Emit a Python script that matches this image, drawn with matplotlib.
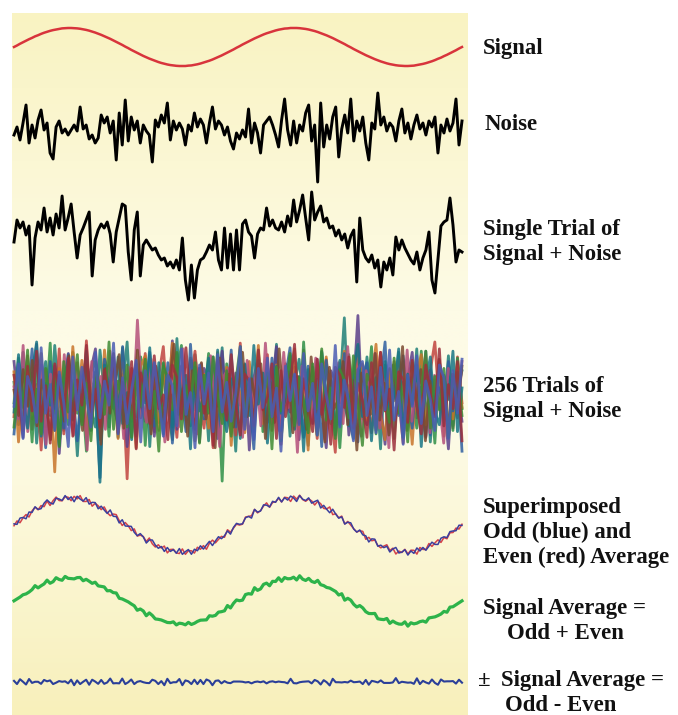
import numpy as np
import matplotlib
matplotlib.use("Agg")
import matplotlib.pyplot as plt
from matplotlib.colors import LinearSegmentedColormap

# ---------------- data ----------------
signal = [0.00, 0.08, 0.17, 0.25, 0.33, 0.41, 0.48, 0.56, 0.62, 0.69,
          0.75, 0.80, 0.85, 0.89, 0.92, 0.95, 0.98, 0.99, 1.00, 1.00,
          0.99, 0.98, 0.96, 0.93, 0.90, 0.86, 0.81, 0.76, 0.70, 0.64,
          0.57, 0.50, 0.43, 0.35, 0.27, 0.19, 0.11, 0.02, -0.06, -0.15,
          -0.23, -0.31, -0.39, -0.47, -0.54, -0.61, -0.67, -0.73, -0.79, -0.84,
          -0.88, -0.92, -0.95, -0.97, -0.99, -1.00, -1.00, -1.00, -0.98, -0.97,
          -0.94, -0.91, -0.87, -0.82, -0.77, -0.72, -0.66, -0.59, -0.52, -0.45,
          -0.37, -0.29, -0.21, -0.13, -0.04,
          0.04, 0.13, 0.21, 0.29, 0.37, 0.45, 0.52, 0.59, 0.66, 0.72,
          0.77, 0.82, 0.87, 0.91, 0.94, 0.97, 0.98, 1.00, 1.00, 1.00,
          0.99, 0.97, 0.95, 0.92, 0.88, 0.84, 0.79, 0.73, 0.67, 0.61,
          0.54, 0.47, 0.39, 0.31, 0.23, 0.15, 0.06, -0.02, -0.11, -0.19,
          -0.27, -0.35, -0.43, -0.50, -0.57, -0.64, -0.70, -0.76, -0.81, -0.86,
          -0.90, -0.93, -0.96, -0.98, -0.99, -1.00, -1.00, -0.99, -0.98, -0.95,
          -0.92, -0.89, -0.85, -0.80, -0.75, -0.69, -0.62, -0.56, -0.48, -0.41,
          -0.33, -0.25, -0.17, -0.08, 0.00]

noise = [0, 8, -5, 12, 30, -8, 10, -3, 15, 25, 5, 12, -18, -24, 8, 14, 2, 6, 0, 5,
         10, 4, 28, 6, 10, -4, 0, -8, -3, 20, 12, 18, 2, 14, -25, 22, -10, 35, -6, 18,
         5, 14, -8, 10, 4, 0, -27, 15, 8, 20, 12, 32, -5, 14, 5, 12, 6, -10, 10, 4,
         22, 8, 16, 10, -8, 12, 28, 6, 14, 10, 0, 8, -6, -14, 2, -4, 5, -2, 26, -8,
         12, 2, -18, 10, 14, 18, 10, 0, -12, 15, 36, 5, -10, 14, -8, 10, 4, 22, 30, -6,
         10, -47, 32, -12, 10, -4, 18, 28, -22, 6, 20, 2, 36, -6, 14, 4, 18, -8, -25, 12,
         6, 42, 10, 18, 4, 12, 8, -6, 14, 26, 2, 12, -4, 10, 20, 6, 12, 0, 14, 8,
         18, -18, 10, 2, 16, 4, 12, 36, -10, 14]

single_trial = [-2, 20, 12, 18, 5, 14, -45, 2, 18, 10, 32, 8, 22, 5, 26, 12, 44, 10, 22, 36,
                8, -18, 5, 12, 20, 28, -36, 0, 10, 16, 12, 18, 6, -22, 8, 22, 36, 34, -12, -40,
                10, 28, -36, -5, 0, -5, -10, -8, -15, -20, -18, -26, -22, -28, -20, -30, 2, -40, -60, -25,
                -58, -30, -20, -18, -12, -5, -10, 8, -20, -30, 12, -28, 6, -30, 10, -30, 16, 20, 8, 4,
                -18, 6, 12, 10, 32, 14, 20, 12, 10, 18, 8, 24, 14, 40, 18, 30, 45, 22, 0, 48,
                20, 28, 34, 18, 22, 12, 14, 4, 10, 0, 6, -8, 4, 10, -42, 22, -10, -18, -22, -15,
                -28, -20, -47, -22, -30, -18, -35, 3, -10, 0, -8, -14, -20, -24, -12, -30, -18, -10, 8, -40,
                -53, -20, 14, 18, 20, 42, 15, -22, -10, -12]

trials = [
    [12, -25, 38, -8, 20, -41, 5, 30, -17, 44, -3, -30, 22, 9, -52, 15, 33, -12, -27, 40, 1, -19, 26, -36, 8, 47, -22, 14, -5, 31, -44, 19, -11, 28, 3, -33, 50, -15, 7, -26, 36, -2, 18, -39, 24, -9, 42, -21, 11, -48, 29, -6, 16, -31, 37, -13, 4, -24, 45, -18, 21, -35, 10, 32, -7, -43, 25, -16, 39, -1, 14, -28, 6, 68, -20, -37, 23, -10, 34, -4, 17, -46, 27, -14, 2, 38, -29, 13, -8, 41, -23, 30, -40, 9, 19, -12, 35, -26, 5, 22],
    [-18, 27, -4, 35, -29, 10, -47, 22, 3, -15, 41, -33, 16, -7, 29, -22, 48, -11, 6, -38, 20, -2, 33, -26, 13, -72, 24, 8, -19, 37, -9, -31, 18, 43, -14, 1, -36, 26, -21, 11, 39, -6, -28, 15, -45, 31, 4, -17, 23, -34, 46, -10, 7, -25, 19, -3, 36, -30, 12, -42, 28, -8, 21, -16, 40, -24, 2, -37, 17, 32, -13, -49, 25, -5, 9, -27, 44, -20, 14, -32, 6, 38, -11, -23, 30, -1, -41, 18, 27, -15, 3, -35, 22, 47, -9, -19, 12, -28, 34, -6],
    [30, -9, -36, 17, 2, 45, -24, 11, -13, 26, -50, 8, 37, -20, 15, -4, -31, 23, 41, -16, 5, -27, 33, -10, 19, -44, 12, 28, -7, -22, 36, -35, 3, 21, -12, 48, -29, 9, -18, 31, -1, -40, 24, 14, -26, 6, 39, -15, -33, 20, -8, 27, -47, 16, 34, -3, -21, 10, 43, -30, 1, -14, 25, -38, 18, 7, -24, 32, -11, -45, 22, 13, -6, 29, -34, 4, 70, -17, -25, 11, 35, -9, -42, 19, -2, 26, -28, 15, 38, -19, 8, -36, 23, -12, 31, -5, -46, 17, 9, -22],
    [-6, 33, -21, 14, -40, 27, 8, -12, 46, -30, 19, -3, -25, 38, -15, 5, -48, 21, 30, -9, 12, -35, 25, -1, 42, -27, 10, -18, 34, -43, 16, 3, -23, 29, -11, -38, 20, 44, -14, 7, -32, 24, -5, 37, -20, 13, -74, 28, 1, -16, 35, -26, 9, -8, 40, -31, 18, -13, 26, -39, 6, 22, -4, -29, 47, -17, 11, -34, 31, 2, -24, 19, -45, 15, 36, -10, -21, 27, -7, 43, -33, 8, -2, 23, -37, 14, 30, -15, 4, -28, 39, -19, 12, -41, 25, -6, 17, -30, 33, -11],
    [21, -40, 9, 28, -16, -3, 37, -27, 15, -66, 24, 6, -19, 43, -10, 31, -34, 2, 18, -25, 40, -8, 12, -37, 29, -14, 4, -45, 26, 35, -20, 10, -30, 22, -6, 46, -23, 16, -12, 33, -39, 7, 19, -28, -1, 38, -17, 25, -43, 13, 3, -32, 30, -9, 44, -24, 11, -15, 27, -36, 20, -5, 41, -29, 14, -47, 23, 8, -18, 34, -11, -26, 17, 39, -7, 1, -33, 28, -21, 12, 45, -16, -38, 24, -4, 31, -13, 6, -42, 19, 36, -25, 9, -2, 29, -35, 15, -20, 26, -10],
    [-33, 12, 25, -7, 41, -22, 3, -45, 30, -11, 18, -28, 36, -2, -39, 14, 27, -16, 8, -71, 32, 19, -9, -24, 43, -13, 6, -35, 21, -4, 38, -26, 11, -18, 29, -41, 16, 2, -31, 45, -12, 24, -20, 7, 34, -37, 13, -6, 40, -27, 20, -14, 1, -46, 28, 10, -23, 33, -8, -30, 17, 42, -19, 5, -36, 26, -3, 15, -44, 31, -10, 22, -25, 37, -15, 4, -40, 18, 29, -7, -21, 12, 47, -32, 9, -17, 35, -1, -28, 23, -11, 39, -34, 14, 6, -26, 30, -13, 20, -48],
    [8, -20, 44, -31, 15, -6, 27, -42, 19, 4, -25, 36, -13, -34, 22, 10, -47, 30, -2, 17, -29, 39, -9, 13, -37, 25, -18, 66, -5, -23, 32, -15, 7, -40, 21, 14, -27, 41, -11, 2, -33, 28, -19, 35, -4, -44, 18, 24, -12, 9, -36, 31, -7, 20, -26, 46, -16, 5, -30, 38, -10, 15, -49, 26, -3, -21, 33, 12, -38, 19, -8, 29, -24, 43, -14, 3, -35, 22, -1, 37, -28, 16, -45, 27, 6, -17, 40, -22, 11, -9, 34, -32, 18, -5, -41, 24, 13, -19, 30],
    [-14, 36, -2, -28, 19, 47, -35, 11, -8, 24, -43, 16, 31, -21, 5, -16, 39, -30, 12, -75, 27, 9, -11, 34, -24, 3, -38, 22, 14, -6, 42, -19, 29, -33, 8, -27, 37, -4, 18, -46, 25, -13, 1, 33, -22, 40, -9, -31, 15, 6, -37, 28, -17, 44, -7, 20, -41, 10, 26, -15, -2, 35, -29, 17, -48, 23, 4, -20, 38, -12, 13, -34, 31, -5, -26, 21, 45, -18, 8, -39, 16, -10, 30, -23, 2, 41, -36, 19, -7, 27, -44, 12, 34, -14, -25, 18, -3, 39, -31, 7],
    [5, -17, 23, -9, 31, -26, 14, -2, -38, 20, 11, -22, 35, -13, 1, -30, 27, -7, 16, -42, 24, -15, 9, 36, -28, 3, -19, 40, -10, 18, -33, 26, -4, -24, 13, 45, -16, 7, -35, 22, -1, 29, -20, 10, -45, 33, -12, 19, -27, 4, 38, -18, 15, -8, 28, -37, 12, -23, 41, -6, 21, -32, 17, 2, -29, 34, -14, 8, -40, 25, -11, -3, 30, -25, 14, -47, 20, 6, -16, 37, -21, 11, -34, 27, -9, 43, -30, 16, -5, 23, -39, 13, -18, 32, -2, -27, 19, -12, 26],
    [-27, 15, -10, 40, -20, 6, -33, 24, -5, 17, -44, 30, -14, 2, 36, -25, 11, -39, 21, 8, -16, 47, -29, 13, -3, 27, -36, 19, -9, 32, -22, 4, -48, 26, 15, -12, 38, -31, 9, -6, 29, -41, 18, -15, 34, 1, -24, 22, -35, 12, 43, -18, 5, -28, 31, -8, 20, -46, 25, -13, 3, 37, -26, 16, -4, -32, 28, -11, 41, -21, 7, -37, 23, 14, -19, 35, -7, -43, 19, 10, -30, 26, -2, -23, 33, -15, 12, -40, 29, -9, 4, 39, -28, 17, -12, 24, -36, 8, 21, -17],
    [18, -5, -30, 26, -13, 39, -22, 9, -41, 28, 3, -17, 33, -35, 14, -8, 44, -19, 6, -27, 23, -3, 37, -32, 12, -14, 30, -46, 20, 7, -24, 35, -11, 1, -38, 27, 16, -20, 42, -9, -29, 24, -15, 10, -43, 31, 5, -21, 36, -6, -34, 19, 13, -26, 40, -12, -1, 28, -37, 22, -18, 9, 45, -24, 15, -7, -31, 32, -16, 4, -42, 25, 18, -10, 34, -28, 11, -4, -36, 29, -20, 38, -13, 6, -47, 21, 14, -23, 31, -8, -33, 27, 2, -18, 41, -26, 10, -11, 30, -39],
    [-9, 28, -37, 17, 4, -23, 42, -15, 10, -30, 21, -6, -44, 34, -12, 25, -1, -27, 38, -19, 13, -8, 46, -33, 16, -24, 5, 31, -40, 22, -11, 29, -3, -35, 18, 9, -26, 41, -16, 3, -45, 27, -7, 20, -31, 36, -14, 12, -22, 2, 43, -29, 15, -38, 24, -10, 33, -18, 7, -48, 26, -4, 19, -25, 37, -13, 11, -34, 28, 1, -20, 44, -27, 14, -6, -39, 23, 30, -17, 8, -32, 25, -12, 40, -21, 4, -42, 18, -9, 35, -24, 13, -3, -30, 27, 16, -37, 22, -15, 32],
]

odd_dev = [3, -4, 6, 2, -7, 5, -1, 8, -3, -6, 4, 9, -2, -8, 5, 1, -5, 7, -4, 3,
           -9, 6, 0, -3, 8, -6, 2, 5, -7, 4, -1, -5, 9, -2, 3, -8, 6, -4, 1, 7,
           -3, -6, 5, 2, -9, 4, 8, -1, -5, 3, -7, 6, -2, 4, -4, 9, -6, 1, 5, -8,
           3, -3, 7, -5, 2, 8, -7, 0, 6, -4, -2, 5, -9, 3, 7, -1, -6, 4, 2, -8,
           9, -3, -5, 6, 1, -7, 4, -2, 8, -6, 3, -4, 5, 0, -9, 7, -1, -3, 6, -5,
           2, 9, -7, 4, -2, -6, 8, 1, -4, 5, -8, 3, 7, -3, -5, 6, -1, 2, -9, 4,
           8, -6, 1, -2, 5, -7, 3, 9, -4, -1, 6, -8, 2, -5, 7, -3, 4, -6, 1, 8,
           -2, -7, 5, 3, -4, 6, 2, -3, 5, -1]

even_dev = [-2, 5, -6, 1, 4, -8, 3, 7, -4, 2, -5, 6, -9, 1, 8, -3, -6, 4, 2, -7,
            5, -1, 9, -4, -2, 6, -8, 3, 1, -5, 7, -3, -6, 4, 8, -2, -9, 5, 2, -4,
            6, -7, 1, 3, -5, 9, -2, -6, 4, -1, 7, -8, 3, 5, -3, -4, 8, -6, 2, 1,
            -7, 6, -2, 4, -9, 3, 7, -5, -1, 2, -6, 8, -4, 1, 5, -3, -7, 6, 2, -2,
            9, -5, -4, 3, 7, -8, 1, -1, 6, -6, 4, 2, -9, 5, -3, 8, -2, -5, 3, 1,
            -7, 6, 4, -4, -1, 9, -6, 2, -3, 7, -8, 5, 1, -2, -5, 4, 8, -7, 3, -1,
            6, -4, -6, 2, 9, -3, 5, -8, 1, -2, 7, -5, 4, 3, -9, 6, -1, -4, 8, -3,
            2, 5, -6, 1, -7, 3, -2, 4, -5, 2]

labels = [
    ("Signal", 483, 54),
    ("Noise", 485, 130),
    ("Single Trial of", 483, 235),
    ("Signal + Noise", 483, 260),
    ("256 Trials of", 483, 392),
    ("Signal + Noise", 483, 417),
    ("Superimposed", 483, 513),
    ("Odd (blue) and", 483, 538),
    ("Even (red) Average", 483, 563),
    ("Signal Average =", 483, 614),
    ("Odd + Even", 507, 639),
    ("\u00b1", 478, 686),
    ("Signal Average =", 501, 686),
    ("Odd - Even", 505, 711),
]

band_colors = ['#1f7f78', '#c0443f', '#5b3f8a', '#2e8f46', '#c8742a', '#2f5fa0',
               '#b44f7a', '#187585', '#7a4a30', '#3f8a33', '#9c2f3c', '#4a5cb3']

# ---------------- figure ----------------
W, H = 678, 715
fig = plt.figure(figsize=(W / 100, H / 100), dpi=100)
fig.patch.set_facecolor('white')
ax = fig.add_axes([12 / W, 0, 456 / W, (H - 13) / H])
ax.set_xlim(12, 468)
ax.set_ylim(715, 13)
ax.axis('off')

grad = np.linspace(0, 1, 256).reshape(-1, 1)
bg = LinearSegmentedColormap.from_list(
    'bg', [(0, '#f9f3c2'), (0.42, '#fdfbe6'), (0.6, '#fdfbe6'), (1, '#f8f0bb')])
ax.imshow(grad, extent=(12, 468, 715, 13), aspect='auto', cmap=bg, zorder=0)


def xs(n):
    return np.linspace(14, 462, n)


s = np.array(signal)
ax.plot(xs(len(s)), 47 - 19 * s, color='#d8343c', lw=1.8, zorder=3)

nz = np.array(noise, dtype=float)
ax.plot(xs(len(nz)), 135 - nz, color='black', lw=2.1, zorder=3)

st = np.array(single_trial, dtype=float)
ax.plot(xs(len(st)), 240 - st, color='black', lw=2.1, zorder=3)

for i, tr in enumerate(trials):
    tr = np.array(tr, dtype=float)
    ax.plot(xs(len(tr)), 396 - 1.15 * tr, color=band_colors[i % len(band_colors)],
            lw=2.0, alpha=0.85, zorder=2)

n = min(len(s), len(odd_dev), len(even_dev))
odd = s[:n] + np.array(odd_dev[:n]) / 70.0
even = s[:n] + np.array(even_dev[:n]) / 70.0
ax.plot(xs(n), 525 - 27 * even, color='#d3424a', lw=1.1, zorder=3)
ax.plot(xs(n), 525 - 27 * odd, color='#3a3f9e', lw=1.1, zorder=3)

ax.plot(xs(n), 601 - 23 * (odd + even) / 2, color='#2db34a', lw=2.3, zorder=3)
ax.plot(xs(n), 682 - 16 * (odd - even), color='#2b3f99', lw=1.5, zorder=3)

for txt, x, y in labels:
    fig.text(x / W, 1 - y / H, txt, family='Liberation Serif', weight='bold',
             fontsize=16.4, va='baseline', ha='left', color='#111111')

fig.savefig('out.png', dpi=100, facecolor='white')
